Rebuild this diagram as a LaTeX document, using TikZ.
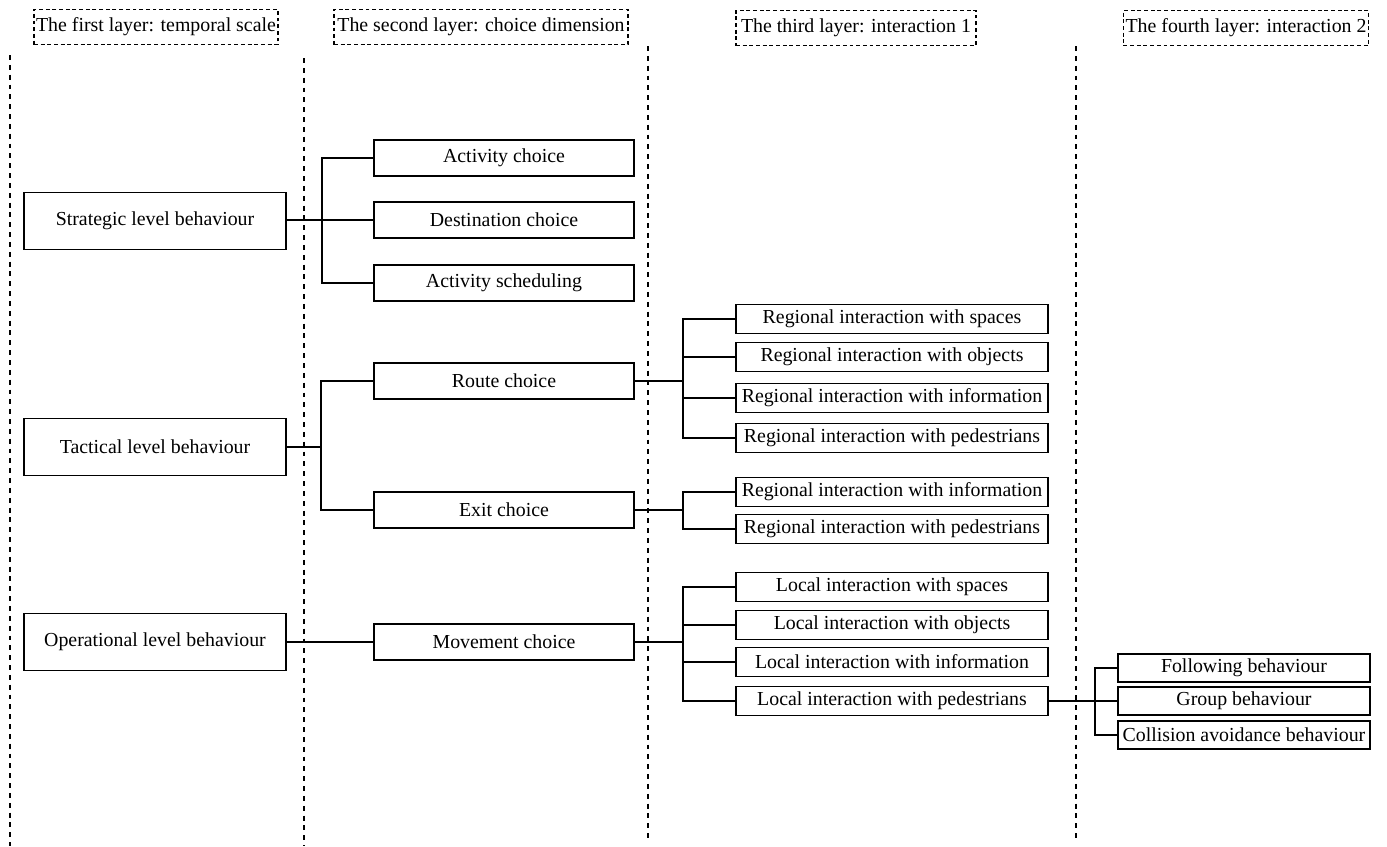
\documentclass[tikz,border=0pt]{standalone}
\usepackage{fontspec}
\setmainfont{Liberation Serif}
\begin{document}
\begin{tikzpicture}[x=0.02cm,y=-0.02cm,
  every node/.style={font=\fontsize{11.3}{13}\selectfont, inner sep=1pt},
  lone/.style={draw, line width=0.8pt, minimum width=5.24cm, minimum height=1.14cm},
  ltwo/.style={draw, line width=0.8pt, minimum width=5.2cm, minimum height=0.72cm},
  lthree/.style={draw, line width=0.8pt, minimum width=6.24cm, minimum height=0.58cm},
  lfour/.style={draw, line width=0.8pt, minimum width=5.04cm, minimum height=0.56cm},
  head/.style={draw, dashed, dash pattern=on 2.2pt off 1.6pt, line width=0.8pt, minimum height=0.7cm, inner xsep=1.2pt},
  sep/.style={dashed, dash pattern=on 2.8pt off 2.8pt, line width=0.9pt},
  conn/.style={line width=0.8pt}]
\useasboundingbox (0,0) rectangle (1387,846);

% separators
\draw[sep] (10,55) -- (10,846);
\draw[sep] (304,58) -- (304,846);
\draw[sep] (648,46) -- (648,838);
\draw[sep] (1076,46) -- (1076,838);

% headers
\node[head, minimum width=4.8cm] (h1) at (156,27) {The first layer: temporal scale};
\node[head, minimum width=5.88cm] (h2) at (481,27) {The second layer: choice dimension};
\node[head, minimum width=4.8cm] (h3) at (856,28) {The third layer: interaction 1};
\node[head, minimum width=4.88cm] (h4) at (1246,28) {The fourth layer: interaction 2};

% layer 1
\node[lone] (str) at (155,221) {Strategic level behaviour};
\node[lone] (tac) at (155,447) {Tactical level behaviour};
\node[lone] (ope) at (155,642) {Operational level behaviour};

% layer 2
\node[ltwo] (act) at (504,158) {Activity choice};
\node[ltwo] (dst) at (504,220) {Destination choice};
\node[ltwo] (sch) at (504,283) {Activity scheduling};
\node[ltwo] (rou) at (504,381) {Route choice};
\node[ltwo] (exi) at (504,510) {Exit choice};
\node[ltwo] (mov) at (504,642) {Movement choice};

% layer 3
\node[lthree] (rs) at (892,319) {Regional interaction with spaces};
\node[lthree] (ro) at (892,357) {Regional interaction with objects};
\node[lthree] (ri) at (892,398) {Regional interaction with information};
\node[lthree] (rp) at (892,438) {Regional interaction with pedestrians};
\node[lthree] (eri) at (892,492) {Regional interaction with information};
\node[lthree] (erp) at (892,529) {Regional interaction with pedestrians};
\node[lthree] (ls) at (892,587) {Local interaction with spaces};
\node[lthree] (lo) at (892,625) {Local interaction with objects};
\node[lthree] (li) at (892,662) {Local interaction with information};
\node[lthree] (lp) at (892,701) {Local interaction with pedestrians};

% layer 4
\node[lfour] (fol) at (1244,668) {Following behaviour};
\node[lfour] (grp) at (1244,701) {Group behaviour};
\node[lfour] (col) at (1244,735) {Collision avoidance behaviour};

% bracket coordinates
\coordinate (b1) at (322,0);
\coordinate (b2) at (321,0);
\coordinate (b3) at (683,0);
\coordinate (b4) at (1095,0);

% connectors
\draw[conn] (str.east |- dst.west) -- (dst.west);
\draw[conn] (act.west) -| (b1 |- sch.west) -- (sch.west);

\draw[conn] (tac.east) -- (tac.east -| b2);
\draw[conn] (rou.west) -| (b2 |- exi.west) -- (exi.west);

\draw[conn] (ope.east) -- (mov.west);

\draw[conn] (rou.east) -- (rou.east -| b3);
\draw[conn] (rs.west) -| (b3 |- rp.west) -- (rp.west);
\draw[conn] (ro.west) -- (ro.west -| b3);
\draw[conn] (ri.west) -- (ri.west -| b3);

\draw[conn] (exi.east) -- (exi.east -| b3);
\draw[conn] (eri.west) -| (b3 |- erp.west) -- (erp.west);

\draw[conn] (mov.east) -- (mov.east -| b3);
\draw[conn] (ls.west) -| (b3 |- lp.west) -- (lp.west);
\draw[conn] (lo.west) -- (lo.west -| b3);
\draw[conn] (li.west) -- (li.west -| b3);

\draw[conn] (lp.east) -- (grp.west);
\draw[conn] (fol.west) -| (b4 |- col.west) -- (col.west);
\end{tikzpicture}
\end{document}
